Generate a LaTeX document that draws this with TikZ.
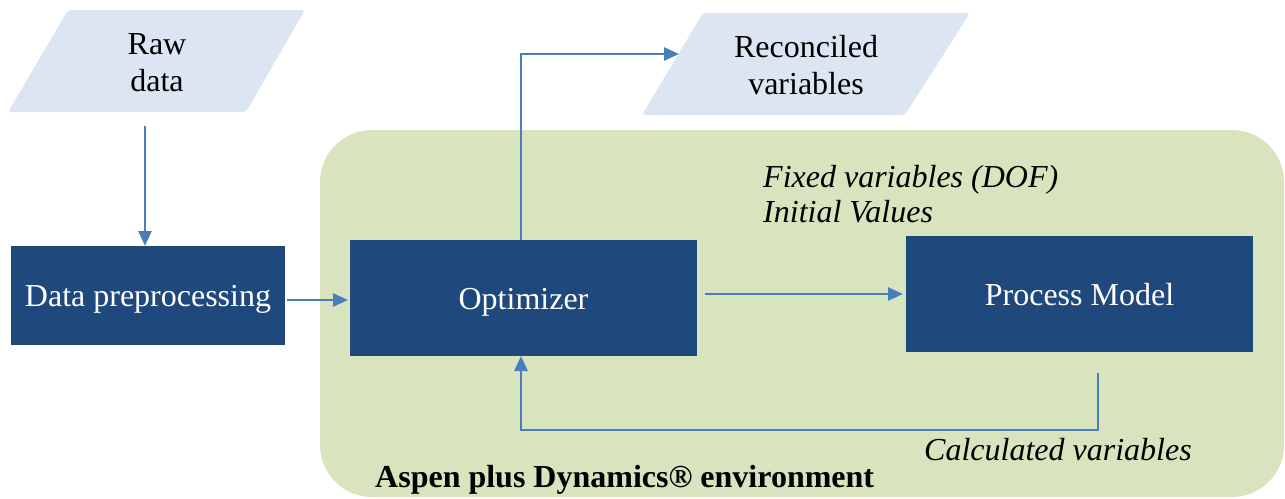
\documentclass[tikz,border=0pt]{standalone}
\usepackage{fontspec}
\setmainfont{Liberation Serif}
\usetikzlibrary{arrows.meta}
\definecolor{databg}{HTML}{DCE6F2}
\definecolor{envbg}{HTML}{D7E4BD}
\definecolor{boxblue}{HTML}{1F497D}
\definecolor{arrblue}{HTML}{4A7EBB}
\tikzset{
  bigfont/.style={font=\fontsize{32}{37}\selectfont},
  procbox/.style={fill=boxblue, text=white, inner sep=0pt, outer sep=0pt, bigfont, text height=22pt, text depth=0pt},
  iobox/.style={fill=databg, rounded corners=3pt},
  conn/.style={draw=arrblue, line width=2.6pt, -{Triangle[length=15pt,width=13pt]}},
  lbl/.style={bigfont, inner sep=0pt, anchor=base west},
}
\begin{document}
\begin{tikzpicture}[x=1pt,y=-1pt]
\useasboundingbox (0,0) rectangle (1285,498);
% environment
\fill[envbg, rounded corners=52pt] (320,130) rectangle (1284,497);
% input / output parallelograms
\fill[iobox] (68,10) -- (305,10) -- (246,112) -- (8,112) -- cycle;
\fill[iobox] (703,13) -- (970,13) -- (905,115) -- (642,115) -- cycle;
\node[bigfont, align=center, inner sep=0pt] (raw) at (157,63) {Raw\\data};
\node[bigfont, align=center, inner sep=0pt] (rec) at (806,65) {Reconciled\\variables};
% process boxes
\node[procbox, minimum width=274pt, minimum height=99pt] (dp) at (148,295.5) {Data preprocessing};
\node[procbox, minimum width=347pt, minimum height=116pt] (opt) at (523.5,298) {Optimizer};
\node[procbox, minimum width=347pt, minimum height=116pt] (pm) at (1079.5,294) {Process Model};
% labels
\node[lbl, font=\fontsize{32}{37}\selectfont\itshape] (fixed) at (763,187) {Fixed variables (DOF)};
\node[lbl, font=\fontsize{32}{37}\selectfont\itshape] (init) at (763,222) {Initial Values};
\node[lbl, font=\fontsize{32}{37}\selectfont\itshape] (calc) at (924,460) {Calculated variables};
\node[lbl, font=\fontsize{32}{37}\selectfont\bfseries] (env) at (375,487) {Aspen plus Dynamics® environment};
% coordinates
\coordinate (rawout) at (145,126);
\coordinate (recin) at (679,54);
\coordinate (pmout) at (1098,373);
% connectors
\draw[conn] (rawout) -- (rawout |- dp.north);
\draw[conn, shorten <=2pt, shorten >=2pt] (dp.east |- 0,300) -- (opt.west |- 0,300);
\draw[conn, shorten <=8pt, shorten >=3pt] (opt.east |- 0,294) -- (pm.west |- 0,294);
\draw[conn] (opt.north -| 521,0) -- (521,54) -- (recin);
\draw[conn] (pmout) -- (1098,430) -- (521,430) -- (opt.south -| 521,0);
\end{tikzpicture}
\end{document}
